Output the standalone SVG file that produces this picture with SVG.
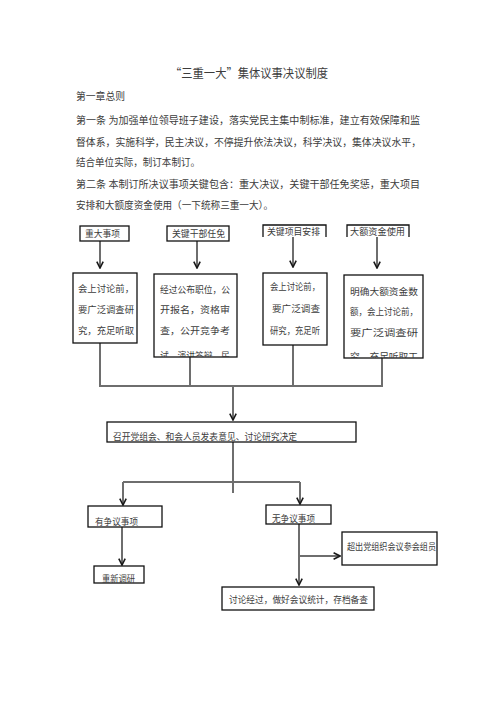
<svg xmlns="http://www.w3.org/2000/svg" width="496" height="702" viewBox="0 0 496 702">
<style>
  text { font-family: "Noto Sans CJK SC", "Noto Sans CJK TC", sans-serif; fill: #3c3c3c; }
  .h { font-size: 10px; }
  .t { font-size: 9px; }
  .box { fill: #fff; stroke: #111; stroke-width: 1.3; }
  .open { fill: none; stroke: #111; stroke-width: 1.3; }
  .c { fill: none; stroke: #6e6e6e; stroke-width: 2; }
</style>
<defs>
  <marker id="ah" viewBox="0 0 10 10" refX="9" refY="5" markerWidth="8" markerHeight="8" markerUnits="userSpaceOnUse" orient="auto">
    <path d="M1,1 L9,5 L1,9" fill="none" stroke="#1a1a1a" stroke-width="2"/>
  </marker>
  <clipPath id="cb2"><rect x="154" y="274" width="83" height="83"/></clipPath>
  <clipPath id="cb4"><rect x="344" y="275" width="79" height="83"/></clipPath>
  <clipPath id="cmeet"><rect x="107" y="422" width="249" height="20"/></clipPath>
  <clipPath id="cre"><rect x="94" y="566" width="50" height="17"/></clipPath>
  <clipPath id="cno"><rect x="266" y="505" width="65" height="19"/></clipPath>
</defs>
<rect width="496" height="702" fill="#fff"/>

<g id="header">
  <text x="170" y="78" style="font-size:12px" textLength="158" lengthAdjust="spacingAndGlyphs">“三重一大”集体议事决议制度</text>
  <text class="h" x="76" y="100" textLength="49" lengthAdjust="spacingAndGlyphs">第一章总则</text>
  <text class="h" x="76" y="124" textLength="344" lengthAdjust="spacingAndGlyphs">第一条  为加强单位领导班子建设，落实党民主集中制标准，建立有效保障和监</text>
  <text class="h" x="76" y="146" textLength="345" lengthAdjust="spacingAndGlyphs">督体系，实施科学，民主决议，不停提升依法决议，科学决议，集体决议水平，</text>
  <text class="h" x="76" y="166" textLength="124" lengthAdjust="spacingAndGlyphs">结合单位实际，制订本制订。</text>
  <text class="h" x="76" y="188" textLength="344" lengthAdjust="spacingAndGlyphs">第二条  本制订所决议事项关键包含：重大决议，关键干部任免奖惩，重大项目</text>
  <text class="h" x="76" y="209" textLength="197" lengthAdjust="spacingAndGlyphs">安排和大额度资金使用（一下统称三重一大）。</text>
</g>

<g id="connectors">
  <line class="c" x1="100" y1="241" x2="100" y2="268" marker-end="url(#ah)"/>
  <line class="c" x1="197" y1="241" x2="197" y2="268" marker-end="url(#ah)"/>
  <line class="c" x1="293" y1="237" x2="293" y2="267" marker-end="url(#ah)"/>
  <line class="c" x1="377" y1="237" x2="377" y2="268" marker-end="url(#ah)"/>
  <line class="c" x1="100" y1="343" x2="100" y2="386"/>
  <line class="c" x1="190" y1="357" x2="190" y2="386"/>
  <line class="c" x1="293" y1="345" x2="293" y2="386"/>
  <line class="c" x1="382" y1="347" x2="382" y2="386"/>
  <line class="c" x1="99" y1="386" x2="383" y2="386"/>
  <line class="c" x1="233" y1="386" x2="233" y2="420" marker-end="url(#ah)"/>
  <line class="c" x1="233" y1="442" x2="233" y2="493"/>
  <line class="c" x1="123" y1="482" x2="300" y2="482"/>
  <line class="c" x1="123" y1="482" x2="123" y2="505" marker-end="url(#ah)"/>
  <line class="c" x1="300" y1="482" x2="300" y2="504" marker-end="url(#ah)"/>
  <line class="c" x1="122" y1="527" x2="122" y2="565" marker-end="url(#ah)"/>
  <line class="c" x1="299" y1="524" x2="299" y2="585" marker-end="url(#ah)"/>
  <line class="c" x1="299" y1="556" x2="340" y2="556" marker-end="url(#ah)"/>
</g>

<g id="n-major">
  <rect class="box" x="80" y="226" width="49" height="15"/>
  <text class="t" x="85" y="237" textLength="35" lengthAdjust="spacingAndGlyphs">重大事项</text>
</g>
<g id="n-cadre">
  <rect class="box" x="167" y="226" width="62" height="15"/>
  <text class="t" x="172" y="237" textLength="53" lengthAdjust="spacingAndGlyphs">关键干部任免</text>
</g>
<g id="n-project">
  <path class="open" d="M263,237 V225 H326 V237"/>
  <text class="t" x="267" y="235" textLength="53" lengthAdjust="spacingAndGlyphs">关键项目安排</text>
</g>
<g id="n-fund">
  <path class="open" d="M347,237 V225 H409 V237"/>
  <text class="t" x="350" y="235" textLength="55" lengthAdjust="spacingAndGlyphs">大额资金使用</text>
</g>

<g id="d-major">
  <rect class="box" x="73" y="273" width="64" height="70"/>
  <text class="t" x="78" y="292" textLength="56" lengthAdjust="spacingAndGlyphs">会上讨论前，</text>
  <text class="t" x="78" y="313" textLength="56" lengthAdjust="spacingAndGlyphs">要广泛调查研</text>
  <text class="t" x="78" y="334" textLength="56" lengthAdjust="spacingAndGlyphs">究，充足听取</text>
</g>
<g id="d-cadre">
  <rect class="box" x="154" y="274" width="83" height="83"/>
  <text class="t" x="160" y="293" textLength="70" lengthAdjust="spacingAndGlyphs">经过公布职位，公</text>
  <text class="t" x="160" y="313" textLength="70" lengthAdjust="spacingAndGlyphs">开报名，资格审</text>
  <text class="t" x="160" y="334" textLength="70" lengthAdjust="spacingAndGlyphs">查，公开竞争考</text>
  <text class="t" x="160" y="359" textLength="70" lengthAdjust="spacingAndGlyphs" clip-path="url(#cb2)">试，演讲答辩，民</text>
</g>
<g id="d-project">
  <rect class="box" x="263" y="273" width="64" height="72"/>
  <text class="t" x="270" y="290" textLength="50" lengthAdjust="spacingAndGlyphs">会上讨论前，</text>
  <text class="t" x="272" y="312" textLength="48" lengthAdjust="spacingAndGlyphs">要广泛调查</text>
  <text class="t" x="270" y="334" textLength="50" lengthAdjust="spacingAndGlyphs">研究，充足听</text>
</g>
<g id="d-fund">
  <rect class="box" x="344" y="275" width="79" height="83"/>
  <text class="t" x="350" y="295" textLength="68" lengthAdjust="spacingAndGlyphs">明确大额资金数</text>
  <text class="t" x="350" y="315" textLength="68" lengthAdjust="spacingAndGlyphs">额，会上讨论前，</text>
  <text class="t" x="350" y="336" textLength="68" lengthAdjust="spacingAndGlyphs">要广泛调查研</text>
  <text class="t" x="350" y="360" textLength="68" lengthAdjust="spacingAndGlyphs" clip-path="url(#cb4)">究，充足听取工</text>
</g>

<g id="n-meeting">
  <rect class="box" x="107" y="422" width="249" height="20"/>
  <text class="t" x="113" y="440" textLength="184" lengthAdjust="spacingAndGlyphs" clip-path="url(#cmeet)">召开党组会、和会人员发表意见、讨论研究决定</text>
</g>
<g id="n-disputed">
  <rect class="box" x="88" y="506" width="74" height="21"/>
  <text class="t" x="95" y="525" textLength="43" lengthAdjust="spacingAndGlyphs">有争议事项</text>
</g>
<g id="n-restudy">
  <rect class="box" x="94" y="566" width="50" height="17"/>
  <text class="t" x="102" y="582" textLength="33" lengthAdjust="spacingAndGlyphs" clip-path="url(#cre)">重新调研</text>
</g>
<g id="n-undisputed">
  <rect class="box" x="266" y="505" width="65" height="19"/>
  <text class="t" x="272" y="522" textLength="43" lengthAdjust="spacingAndGlyphs" clip-path="url(#cno)">无争议事项</text>
</g>
<g id="n-exceed">
  <rect class="box" x="342" y="532" width="95" height="33"/>
  <text class="t" x="347" y="550" textLength="89" lengthAdjust="spacingAndGlyphs">超出党组织会议参会组员</text>
</g>
<g id="n-record">
  <rect class="box" x="222" y="587" width="152" height="23"/>
  <text class="t" x="229" y="603" textLength="139" lengthAdjust="spacingAndGlyphs">讨论经过，做好会议统计，存档备查</text>
</g>
</svg>
